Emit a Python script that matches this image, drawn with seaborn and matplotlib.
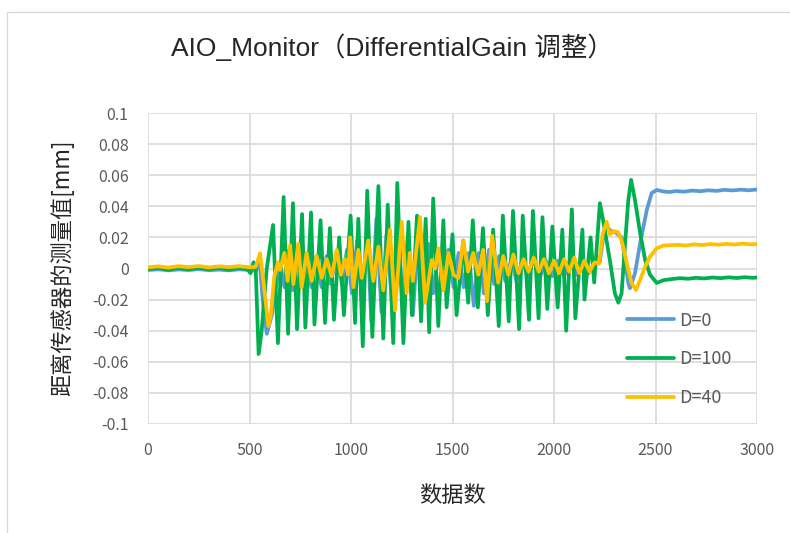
import matplotlib
matplotlib.use("Agg")
import matplotlib.pyplot as plt
import seaborn as sns
import pandas as pd
from matplotlib.patches import Rectangle

# ── data ────────────────────────────────────────────────────────────────────
title = "AIO_Monitor（DifferentialGain 调整）"
x_label = "数据数"
y_label = "距离传感器的测量值[mm]"
series_names = ["D=0", "D=100", "D=40"]
series_colors = ["#5B9BD5", "#00B050", "#FFC000"]

x_ticks = [0, 500, 1000, 1500, 2000, 2500, 3000]
y_ticks = [0.1, 0.08, 0.06, 0.04, 0.02, 0, -0.02, -0.04, -0.06, -0.08, -0.1]
y_tick_labels = ["0.1", "0.08", "0.06", "0.04", "0.02", "0",
                 "-0.02", "-0.04", "-0.06", "-0.08", "-0.1"]

d0_x = [0, 50, 100, 150, 200, 250, 300, 350, 400, 450, 500, 530, 550, 565,
        585, 610, 630, 650, 672, 695, 715, 740, 760, 785, 805, 830, 855, 880,
        900, 930, 955, 980, 1005, 1030, 1055, 1080, 1100, 1125, 1150, 1175,
        1205, 1230, 1255, 1280, 1305, 1330, 1355, 1380, 1405, 1430, 1455,
        1480, 1505, 1530, 1555, 1580, 1605, 1630, 1655, 1680, 1705, 1730,
        1760, 1790, 1815, 1845, 1870, 1900, 1930, 1960, 1990, 2020, 2050,
        2080, 2110, 2140, 2170, 2200, 2225, 2245, 2262, 2280, 2300, 2333,
        2350, 2366, 2374, 2399, 2424, 2457, 2481, 2506, 2540, 2570, 2600,
        2640, 2680, 2720, 2760, 2800, 2840, 2880, 2920, 2960, 3000]
d0_y = [-0.001, -0.0005, -0.0012, -0.0006, -0.001, -0.0004, -0.0011,
        -0.0007, -0.0012, -0.0005, -0.001, -0.0015, 0.004, -0.02, -0.042,
        -0.03, -0.012, 0.004, -0.012, 0.012, -0.014, 0.012, -0.012, 0.01,
        -0.012, 0.008, -0.012, 0.008, -0.01, 0.01, -0.01, 0.012, -0.016,
        0.018, -0.022, 0.026, -0.034, 0.032, -0.028, 0.022, -0.026, 0.024,
        -0.022, 0.02, -0.03, 0.022, -0.02, 0.016, -0.016, 0.012, -0.014,
        0.012, -0.012, 0.01, -0.012, 0.01, -0.024, 0.01, -0.016, 0.012,
        -0.01, 0.008, -0.008, 0.006, -0.008, 0.006, -0.006, 0.006, -0.006,
        0.005, -0.005, 0.005, -0.005, 0.005, -0.004, 0.004, -0.003, 0.003,
        0.004, 0.022, 0.027, 0.024, 0.0235, 0.02, 0.0055, -0.0094, -0.0127,
        -0.003, 0.016, 0.0376, 0.0485, 0.0505, 0.0495, 0.0492, 0.0498,
        0.0494, 0.0501, 0.0497, 0.0503, 0.0499, 0.0506, 0.0502, 0.0507,
        0.0503, 0.0508]

d100_x = [0, 50, 100, 150, 200, 250, 300, 350, 400, 450, 490, 505, 520, 530,
          545, 560, 585, 616, 640, 668, 690, 714, 734, 759, 775, 803, 820,
          850, 872, 896, 916, 942, 965, 998, 1020, 1036, 1058, 1080, 1105,
          1135, 1159, 1181, 1208, 1228, 1258, 1283, 1300, 1325, 1345, 1368,
          1385, 1405, 1430, 1455, 1471, 1500, 1520, 1553, 1577, 1600, 1625,
          1650, 1674, 1700, 1728, 1748, 1777, 1798, 1828, 1846, 1877, 1896,
          1924, 1943, 1967, 1992, 2018, 2041, 2060, 2088, 2105, 2140, 2150,
          2180, 2198, 2226, 2242, 2275, 2300, 2317, 2333, 2350, 2366, 2380,
          2399, 2424, 2449, 2473, 2506, 2540, 2580, 2620, 2660, 2700, 2740,
          2780, 2820, 2860, 2900, 2940, 2980, 3000]
d100_y = [-0.0003, 0.0005, -0.0008, 0.0004, -0.0006, 0.0006, -0.0005,
          0.0004, -0.0007, 0.0005, -0.0006, -0.003, 0.004, 0.002, -0.055,
          -0.04, 0.0, 0.028, -0.048, 0.046, -0.042, 0.042, -0.039, 0.035,
          -0.038, 0.036, -0.036, 0.031, -0.035, 0.026, -0.033, 0.02, -0.03,
          0.034, -0.035, 0.032, -0.05, 0.05, -0.044, 0.053, -0.045, 0.041,
          -0.048, 0.055, -0.048, 0.03, -0.03, 0.034, -0.034, 0.032, -0.041,
          0.045, -0.037, 0.031, -0.025, 0.022, -0.03, 0.018, -0.022, 0.031,
          -0.025, 0.026, -0.03, 0.025, -0.037, 0.034, -0.034, 0.037, -0.039,
          0.034, -0.033, 0.037, -0.032, 0.033, -0.026, 0.027, -0.025, 0.025,
          -0.04, 0.038, -0.032, 0.025, -0.02, 0.02, -0.009, 0.042, 0.031,
          0.0055, -0.016, -0.022, -0.016, 0.016, 0.044, 0.057, 0.044, 0.023,
          0.0055, -0.004, -0.0093, -0.0075, -0.0068, -0.0062, -0.0066,
          -0.006, -0.0064, -0.0058, -0.0062, -0.0057, -0.0061, -0.0056,
          -0.006, -0.0058]

d40_x = [0, 50, 100, 150, 200, 250, 300, 350, 400, 450, 500, 530, 552, 570,
         593, 605, 622, 640, 650, 672, 688, 700, 716, 740, 757, 781, 806,
         831, 856, 880, 905, 930, 950, 970, 985, 996, 1012, 1036, 1053, 1085,
         1110, 1135, 1159, 1192, 1217, 1250, 1274, 1290, 1305, 1340, 1365,
         1398, 1415, 1430, 1455, 1480, 1505, 1529, 1553, 1577, 1602, 1627,
         1651, 1670, 1695, 1725, 1750, 1775, 1800, 1825, 1850, 1875, 1900,
         1925, 1950, 1975, 2000, 2025, 2050, 2075, 2100, 2125, 2150, 2175,
         2200, 2222, 2240, 2259, 2275, 2295, 2315, 2330, 2341, 2358, 2382,
         2404, 2424, 2449, 2473, 2506, 2540, 2571, 2610, 2650, 2690, 2730,
         2770, 2810, 2850, 2890, 2930, 2970, 3000]
d40_y = [0.0008, 0.0014, 0.0006, 0.0015, 0.0009, 0.0016, 0.0007, 0.0014,
         0.0009, 0.0015, 0.0008, 0.001, 0.0097, -0.01, -0.037, -0.03,
         -0.005, 0.004, -0.001, 0.01, -0.008, 0.015, -0.01, 0.016, -0.012,
         0.01, -0.008, 0.008, -0.006, 0.006, -0.005, 0.012, -0.004, 0.006,
         -0.004, 0.02, -0.012, 0.012, -0.006, 0.018, -0.008, 0.014, -0.014,
         0.025, -0.027, 0.03, -0.016, 0.01, -0.008, 0.033, -0.022, 0.0055,
         0.0, 0.013, -0.014, 0.01, -0.004, -0.006, 0.018, -0.002, 0.01,
         -0.004, 0.012, -0.021, 0.021, -0.009, 0.008, -0.004, 0.009, -0.003,
         0.006, -0.002, 0.007, -0.002, 0.006, -0.003, 0.005, -0.003, 0.006,
         -0.002, 0.007, -0.003, 0.005, -0.002, 0.004, 0.003, 0.022, 0.03,
         0.022, 0.024, 0.0235, 0.019, 0.014, 0.0035, -0.0094, -0.0138,
         -0.0074, 0.0012, 0.0076, 0.013, 0.0148, 0.015, 0.0152, 0.0148,
         0.0155, 0.0151, 0.0157, 0.0153, 0.0158, 0.0154, 0.016, 0.0155,
         0.0158]

# ── long-form table for seaborn ─────────────────────────────────────────────
df = pd.concat([
    pd.DataFrame({"x": d0_x, "y": d0_y, "series": series_names[0]}),
    pd.DataFrame({"x": d100_x, "y": d100_y, "series": series_names[1]}),
    pd.DataFrame({"x": d40_x, "y": d40_y, "series": series_names[2]}),
], ignore_index=True)

sns.set_style("white")
plt.rcParams["font.family"] = ["Noto Sans CJK SC", "DejaVu Sans"]

W, H = 790, 533
fig = plt.figure(figsize=(W / 100, H / 100), dpi=100)
ax = fig.add_axes([148 / W, 1 - 424 / H, (757 - 148) / W, (424 - 113) / H])

sns.lineplot(
    data=df, x="x", y="y", hue="series",
    hue_order=series_names, palette=series_colors,
    estimator=None, sort=False, linewidth=2.7, ax=ax,
)
for ln in ax.get_lines():
    ln.set_solid_joinstyle("round")
    ln.set_solid_capstyle("round")

ax.set_xlim(0, 3000)
ax.set_ylim(-0.1, 0.1)
ax.set_xticks(x_ticks)
ax.set_xticklabels([str(v) for v in x_ticks])
ax.set_yticks(y_ticks)
ax.set_yticklabels(y_tick_labels)
ax.tick_params(axis="both", length=0, labelsize=11.5, labelcolor="#595959")
ax.tick_params(axis="y", pad=14)
ax.tick_params(axis="x", pad=13)
ax.grid(True, color="#D9D9D9", linewidth=1.2)
ax.set_axisbelow(True)
for sp in ax.spines.values():
    sp.set_visible(False)
ax.set_xlabel("")
ax.set_ylabel("")

# legend without frame, inside the plot at right
handles, labels = ax.get_legend_handles_labels()
ax.legend(
    handles, labels, loc="center left",
    bbox_to_anchor=((627 - 148) / 609, (424 - 359.5) / 311),
    frameon=False, fontsize=13, labelcolor="#595959",
    handlelength=2.6, handletextpad=0.3, labelspacing=1.15,
    borderpad=0, borderaxespad=0,
)

fig.text(392 / W, 1 - 47 / H, title, ha="center", va="center", fontsize=19,
         family=["Liberation Sans", "Noto Sans CJK SC"])
fig.text(452 / W, 1 - 496 / H, x_label, ha="center", va="center", fontsize=16)
fig.text(62 / W, 1 - 268 / H, y_label, ha="center", va="center",
         rotation=90, fontsize=16)

# outer chart frame
fig.patches.append(Rectangle((7 / W, -0.05), 1.2, 1 - 12 / H + 0.05,
                             transform=fig.transFigure, fill=False,
                             edgecolor="#D9D9D9", linewidth=1.0))

fig.savefig("out.png", dpi=100)
